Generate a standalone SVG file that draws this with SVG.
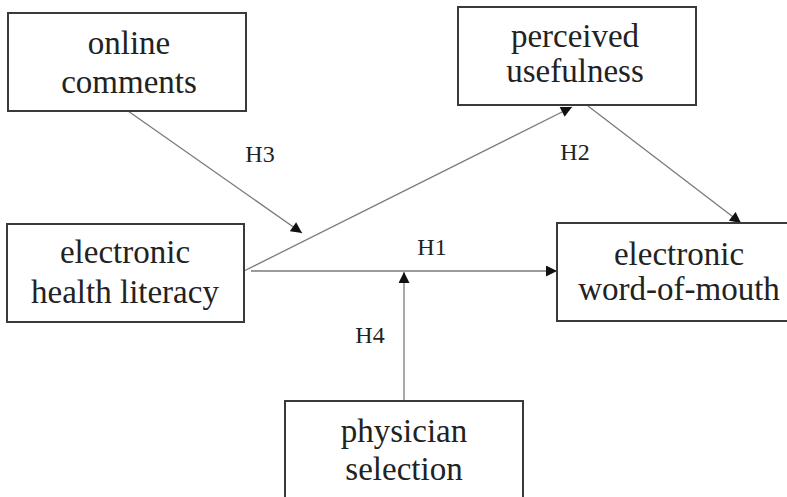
<svg xmlns="http://www.w3.org/2000/svg" width="787" height="497" viewBox="0 0 787 497">
  <style>
    .box { fill: #ffffff; stroke: #3a3a3a; stroke-width: 2; }
    .node-text { font-family: "Liberation Serif", "Times New Roman", serif; font-size: 33px; fill: #222222; text-anchor: middle; }
    .label { font-family: "Liberation Serif", "Times New Roman", serif; font-size: 24px; fill: #222222; text-anchor: middle; }
    .link { fill: none; stroke: #7a7a7a; stroke-width: 1.3; marker-end: url(#arrow); }
  </style>
  <defs>
    <marker id="arrow" viewBox="0 0 10 10" refX="10" refY="5" markerWidth="13" markerHeight="11" markerUnits="userSpaceOnUse" orient="auto">
      <path d="M0,0 L10,5 L0,10 z" fill="#111111"/>
    </marker>
  </defs>
  <rect width="787" height="497" fill="#ffffff"/>

  <!-- connectors -->
  <g id="connectors">
    <line class="link" x1="128" y1="111" x2="302" y2="233"/>
    <line class="link" x1="244" y1="271" x2="572" y2="107"/>
    <line class="link" x1="588" y1="106" x2="741" y2="223"/>
    <line class="link" x1="251" y1="271" x2="557" y2="271"/>
    <line class="link" x1="404" y1="401" x2="404" y2="272"/>
  </g>

  <!-- hypothesis labels -->
  <g id="labels">
    <text class="label" x="260" y="162">H3</text>
    <text class="label" x="575" y="160">H2</text>
    <text class="label" x="432" y="255">H1</text>
    <text class="label" x="370" y="343">H4</text>
  </g>

  <g id="online-comments">
    <rect class="box" x="8" y="13" width="238" height="98"/>
    <text class="node-text" x="129" y="54">online</text>
    <text class="node-text" x="129" y="93">comments</text>
  </g>

  <g id="perceived-usefulness">
    <rect class="box" x="458" y="7" width="238" height="98"/>
    <text class="node-text" x="575" y="47">perceived</text>
    <text class="node-text" x="575" y="82">usefulness</text>
  </g>

  <g id="electronic-health-literacy">
    <rect class="box" x="7" y="224" width="237" height="98"/>
    <text class="node-text" x="125" y="263">electronic</text>
    <text class="node-text" x="125" y="303">health literacy</text>
  </g>

  <g id="electronic-word-of-mouth">
    <rect class="box" x="557" y="223" width="245" height="98"/>
    <text class="node-text" x="679" y="265">electronic</text>
    <text class="node-text" x="679" y="300">word-of-mouth</text>
  </g>

  <g id="physician-selection">
    <rect class="box" x="285" y="401" width="238" height="110"/>
    <text class="node-text" x="404" y="442">physician</text>
    <text class="node-text" x="404" y="480">selection</text>
  </g>
</svg>
